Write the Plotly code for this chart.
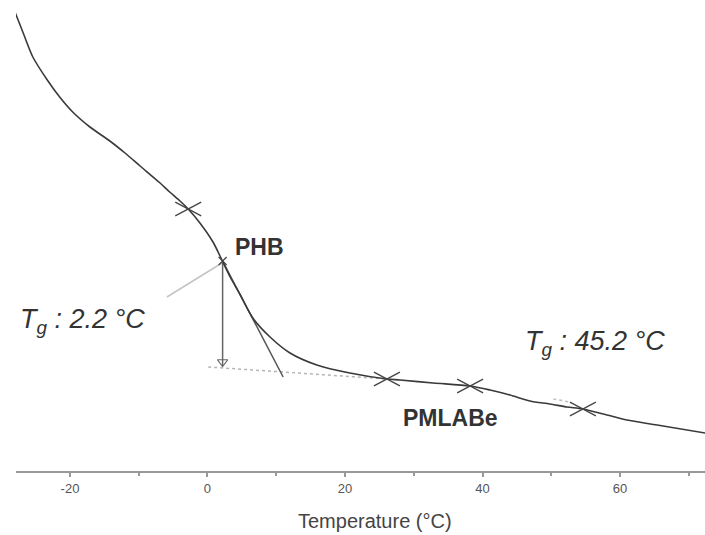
import plotly.graph_objects as go

# DSC trace (temperature in °C, heat flow in arbitrary units)
temperature = [-28.0, -26.8, -25.4, -23.3, -21.5, -19.6, -17.1, -14.2, -12.0, -9.8, -6.9,
               -5.5, -4.0, -2.8, -1.1, 0.8, 2.1, 3.3, 4.7, 6.6, 9.1, 12.0, 15.9, 20.7,
               26.1, 28.0, 32.8, 38.2, 41.1, 44.0, 46.9, 49.8, 52.3, 54.6, 58.1, 61.0,
               65.4, 72.4]
heat_flow = [4.59, 4.38, 4.14, 3.91, 3.74, 3.59, 3.44, 3.30, 3.18, 3.05, 2.88,
             2.79, 2.70, 2.62, 2.48, 2.29, 2.11, 1.94, 1.77, 1.53, 1.34, 1.18, 1.06, 0.98,
             0.92, 0.91, 0.88, 0.85, 0.81, 0.76, 0.70, 0.67, 0.64, 0.62, 0.56, 0.51,
             0.46, 0.38]

# analysis marks (cross markers on trace)
cross_T = [-2.8, 26.1, 38.2, 54.6]
cross_hf = [2.62, 0.92, 0.85, 0.62]
tg_phb_T = [2.2]
tg_phb_hf = [2.10]

# construction lines
tangent_T = [2.2, 11.0]
tangent_hf = [2.10, 0.94]
pointer_T = [-5.9, 2.1]
pointer_hf = [1.74, 2.08]
baseline_T = [0.1, 26.1]
baseline_hf = [1.04, 0.92]
pmlabe_tan_T = [50.3, 52.7]
pmlabe_tan_hf = [0.72, 0.69]
arrow_T = [2.2, 2.2]
arrow_hf = [2.08, 1.05]

x_ticks = [-20, 0, 20, 40, 60]
x_ticktext = ["-20", "0", "20", "40", "60"]
x_range = [-27.85, 72.36]

fig = go.Figure()

fig.add_trace(go.Scatter(x=pointer_T, y=pointer_hf, mode="lines",
                         line=dict(color="#c4c4c4", width=1.5), hoverinfo="skip"))
fig.add_trace(go.Scatter(x=baseline_T, y=baseline_hf, mode="lines",
                         line=dict(color="#b5b5b5", width=1.5, dash="dot"), hoverinfo="skip"))
fig.add_trace(go.Scatter(x=pmlabe_tan_T, y=pmlabe_tan_hf, mode="lines",
                         line=dict(color="#c0c0c0", width=1.5, dash="dot"), hoverinfo="skip"))
fig.add_trace(go.Scatter(x=tangent_T, y=tangent_hf, mode="lines",
                         line=dict(color="#555555", width=1.5), hoverinfo="skip"))
fig.add_trace(go.Scatter(x=arrow_T, y=arrow_hf, mode="lines",
                         line=dict(color="#666666", width=1.5), hoverinfo="skip"))
fig.add_trace(go.Scatter(x=[arrow_T[-1]], y=[arrow_hf[-1] + 0.04], mode="markers",
                         marker=dict(symbol="triangle-down-open", size=9,
                                     color="#666666", line=dict(width=1.2)),
                         hoverinfo="skip"))
fig.add_trace(go.Scatter(x=temperature, y=heat_flow, mode="lines",
                         line=dict(color="#3a3a3a", width=1.6, shape="spline", smoothing=0.8)))
# flattened crosses: two rotated dashes per point
for ang in (28, -28):
    fig.add_trace(go.Scatter(x=cross_T, y=cross_hf, mode="markers",
                             marker=dict(symbol="line-ew", size=21, angle=ang,
                                         line=dict(color="#444444", width=1.3))))
fig.add_trace(go.Scatter(x=tg_phb_T, y=tg_phb_hf, mode="markers",
                         marker=dict(symbol="x-thin", size=8,
                                     line=dict(color="#444444", width=1.2))))

txt_font = dict(family="Liberation Sans, Arial, sans-serif", color="#333333")
fig.add_annotation(x=7.6, y=2.24, text="<b>PHB</b>", showarrow=False,
                   font=dict(size=23, **txt_font))
fig.add_annotation(x=35.3, y=0.53, text="<b>PMLABe</b>", showarrow=False,
                   font=dict(size=23, **txt_font))
fig.add_annotation(x=-27.6, y=1.50, xanchor="left", yanchor="middle",
                   text="<i>T<sub>g</sub> : 2.2 °C</i>", showarrow=False,
                   font=dict(size=27, **txt_font))
fig.add_annotation(x=45.9, y=1.28, xanchor="left", yanchor="middle",
                   text="<i>T<sub>g</sub> : 45.2 °C</i>", showarrow=False,
                   font=dict(size=27, **txt_font))
fig.add_annotation(x=24.4, xref="x", y=0, yref="paper", yshift=-63,
                   text="Temperature (°C)", showarrow=False,
                   font=dict(size=20, family="Liberation Sans, Arial, sans-serif",
                             color="#444444"))

fig.update_layout(
    width=705, height=535,
    margin=dict(l=16, r=0, t=0, b=64),
    paper_bgcolor="white", plot_bgcolor="white",
    showlegend=False,
    xaxis=dict(range=x_range, tickvals=x_ticks, ticktext=x_ticktext,
               ticks="outside", ticklen=4,
               tickcolor="#999999", tickwidth=1.5,
               showline=True, linecolor="#999999", linewidth=2,
               showgrid=False, zeroline=False,
               tickfont=dict(size=13, family="Liberation Sans, Arial",
                             color="#555555"),
               minor=dict(ticks="outside", ticklen=3, dtick=10, tick0=0,
                          tickcolor="#999999", tickwidth=1.5, showgrid=False)),
    yaxis=dict(range=[0, 4.71], visible=False),
)

fig.write_html("out.html", config={"displayModeBar": False},
               post_script="document.body.style.margin='0';document.body.style.overflow='hidden';")
